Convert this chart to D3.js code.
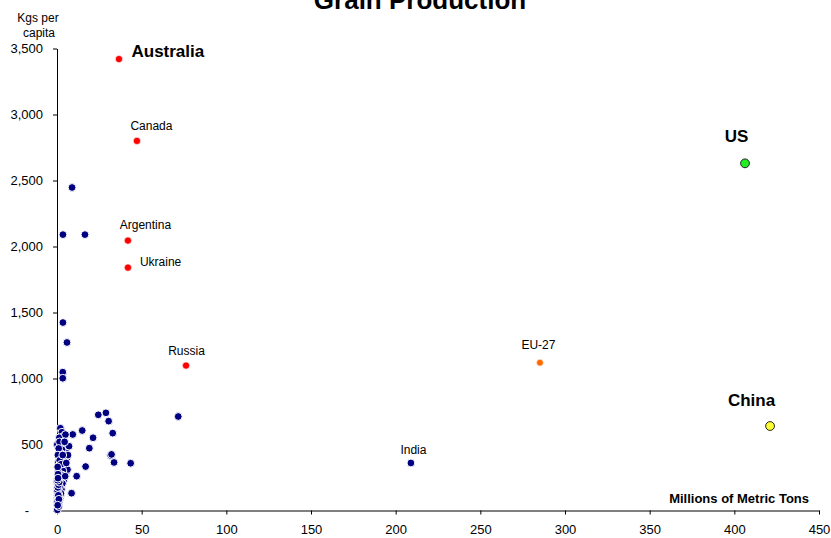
<!DOCTYPE html>
<html>
<head>
<meta charset="utf-8">
<script src="https://cdn.jsdelivr.net/npm/d3@7"></script>
<style>
  html, body { margin: 0; padding: 0; background: #fff; }
  svg { display: block; font-family: "Liberation Sans", Arial, sans-serif; }
</style>
</head>
<body>
<svg id="chart" width="831" height="538"></svg>
<script>
// ---- data ----
const chartTitle = "Grain Production";
const xTickValues = [0, 50, 100, 150, 200, 250, 300, 350, 400, 450];
const yTickValues = [0, 500, 1000, 1500, 2000, 2500, 3000, 3500];

const countries  = ["Australia", "Canada", "Argentina", "Ukraine", "Russia", "EU-27", "US", "China", "India"];
const production = [36.6, 47.2, 41.9, 41.9, 76.2, 285.2, 406.3, 421.1, 209.0];
const perCapita  = [3420, 2800, 2045, 1840, 1098, 1120, 2630, 640, 360];
const groups     = ["exporter", "exporter", "exporter", "exporter", "exporter", "eu", "us", "china", "other"];

const otherProduction = [
  8.9, 3.5, 16.5, 3.5, 5.9, 3.4, 3.4, 24.4, 28.9, 30.5, 71.6, 14.9, 9.3, 21.3, 32.9,
  19.1, 31.7, 32.2, 33.7, 43.5, 16.9, 11.6, 8.6, 0.2,
  2.0, 2.9, 3.8, 1.4, 5.0, 0.2, 3.8, 7.1, 1.2, 5.7, 2.2, 3.8, 0.8, 2.8, 4.7, 1.2,
  5.3, 1.8, 4.1, 0.1, 2.2, 0.1, 1.4, 0.1, 0.8,
  1.5, 4.5, 3.0, 6.0, 2.5, 4.2, 1.0, 0.5, 6.2, 3.5, 2.8, 0.6, 1.8, 3.2, 0.9, 0.4,
  1.2, 2.6, 0.5, 1.0, 0.3, 0.6, 1.5, 0.2, 2.0, 0.7, 3.0, 4.8, 1.6, 2.4, 0.4, 5.5,
  6.5, 3.4, 0.9, 1.7, 2.3, 0.3, 1.1, 0.6,
  0.4, 0.7, 1.0, 0.2, 0.5, 0.9, 1.3, 0.3, 0.6, 0.8, 1.1, 0.4
];
const otherPerCapita = [
  2447, 2090, 2090, 1424, 1273, 1048, 1002, 725, 740, 677, 712, 606, 576, 551, 586,
  472, 417, 425, 364, 358, 333, 260, 131, 5,
  623, 593, 561, 551, 575, 500, 480, 487, 434, 434, 404, 384, 366, 336, 328, 303,
  278, 252, 235, 214, 189, 164, 139, 101, 63,
  520, 520, 460, 400, 430, 350, 470, 420, 310, 300, 270, 290, 220, 205, 240, 180,
  120, 160, 80, 30, 140, 200, 180, 50, 110, 260, 250, 260, 380, 350, 330, 360,
  420, 420, 150, 90, 130, 230, 60, 275,
  70, 95, 125, 155, 175, 195, 215, 230, 245, 115, 85, 40
];

// ---- styles / layout ----
const groupStyle = {
  exporter: { fill: "#ff0000", stroke: "#ffffff", sw: 0.6, r: 3.6 },
  eu:       { fill: "#ff6a00", stroke: "#ffffff", sw: 0.6, r: 3.4 },
  us:       { fill: "#22ee22", stroke: "#222222", sw: 1,   r: 4.4 },
  china:    { fill: "#ffff33", stroke: "#222222", sw: 1,   r: 4.4 },
  other:    { fill: "#000080", stroke: "#ffffff", sw: 1,   r: 3.9 }
};
const labelStyle = {
  "Australia": { dx: 12.5, dy: -2,   anchor: "start",  size: 17, bold: true },
  "Canada":    { dx: 14.5, dy: -10.7, anchor: "middle", size: 12, bold: false },
  "Argentina": { dx: 17.5, dy: -11.7, anchor: "middle", size: 12, bold: false },
  "Ukraine":   { dx: 12,   dy: -1.7, anchor: "start",  size: 12, bold: false },
  "Russia":    { dx: 0.5,  dy: -10.7, anchor: "middle", size: 12, bold: false },
  "EU-27":     { dx: -1.5, dy: -13.7, anchor: "middle", size: 12, bold: false },
  "US":        { dx: -8.5, dy: -21,  anchor: "middle", size: 17, bold: true },
  "China":     { dx: -18.5, dy: -20, anchor: "middle", size: 17, bold: true },
  "India":     { dx: 2.5,  dy: -8.7, anchor: "middle", size: 12, bold: false }
};

const svg = d3.select("#chart");
const plotLeft = 57, plotRight = 819, plotTop = 48.5, plotBottom = 510.5;

const x = d3.scaleLinear().domain([0, 450]).range([plotLeft, plotRight]);
const y = d3.scaleLinear().domain([0, 3500]).range([plotBottom, plotTop]);

// title (cut off at top as in the reference)
svg.append("text")
  .attr("x", 420).attr("y", 9)
  .attr("text-anchor", "middle")
  .attr("font-size", 26).attr("font-weight", "bold")
  .attr("fill", "#000")
  .text(chartTitle);

// y axis
const yAxis = svg.append("g")
  .attr("transform", `translate(${plotLeft},0)`)
  .call(d3.axisLeft(y).tickValues(yTickValues).tickSize(4).tickSizeOuter(0).tickPadding(10)
    .tickFormat(d => d === 0 ? "-" : d3.format(",")(d)));
yAxis.selectAll("text").attr("font-size", 13).attr("font-family", "Liberation Sans, Arial, sans-serif").attr("fill", "#000");
yAxis.selectAll(".tick").filter(d => d === 0).select("text").attr("x", -28);
yAxis.selectAll("line, path").attr("stroke", "#000");

// x axis
const xAxis = svg.append("g")
  .attr("transform", `translate(0,${plotBottom})`)
  .call(d3.axisBottom(x).tickValues(xTickValues).tickSize(4).tickSizeOuter(0).tickPadding(10)
    .tickFormat(d3.format("d")));
xAxis.selectAll("text").attr("font-size", 13).attr("font-family", "Liberation Sans, Arial, sans-serif").attr("fill", "#000");
xAxis.selectAll("line, path").attr("stroke", "#000");

// axis titles
const yt = svg.append("text").attr("text-anchor", "middle").attr("font-size", 12).attr("fill", "#000");
yt.append("tspan").attr("x", 38).attr("y", 22).text("Kgs per");
yt.append("tspan").attr("x", 39).attr("y", 37).text("capita");

svg.append("text")
  .attr("x", 809).attr("y", 503)
  .attr("text-anchor", "end")
  .attr("font-size", 13).attr("font-weight", "bold").attr("fill", "#000")
  .text("Millions of Metric Tons");

// other countries
const others = otherProduction.map((v, i) => ({ x: v, y: otherPerCapita[i] }));
const os = groupStyle.other;
svg.append("g").selectAll("circle").data(others).join("circle")
  .attr("cx", d => x(d.x)).attr("cy", d => y(d.y))
  .attr("r", os.r).attr("fill", os.fill)
  .attr("stroke", os.stroke).attr("stroke-width", os.sw);

// labelled countries
const named = countries.map((c, i) => ({ name: c, x: production[i], y: perCapita[i], g: groups[i] }));
svg.append("g").selectAll("circle").data(named).join("circle")
  .attr("cx", d => x(d.x)).attr("cy", d => y(d.y))
  .attr("r", d => groupStyle[d.g].r)
  .attr("fill", d => groupStyle[d.g].fill)
  .attr("stroke", d => groupStyle[d.g].stroke)
  .attr("stroke-width", d => groupStyle[d.g].sw);

svg.append("g").selectAll("text").data(named).join("text")
  .attr("x", d => x(d.x) + labelStyle[d.name].dx)
  .attr("y", d => y(d.y) + labelStyle[d.name].dy)
  .attr("text-anchor", d => labelStyle[d.name].anchor)
  .attr("font-size", d => labelStyle[d.name].size)
  .attr("font-weight", d => labelStyle[d.name].bold ? "bold" : "normal")
  .attr("fill", "#000")
  .text(d => d.name);
</script>
</body>
</html>
